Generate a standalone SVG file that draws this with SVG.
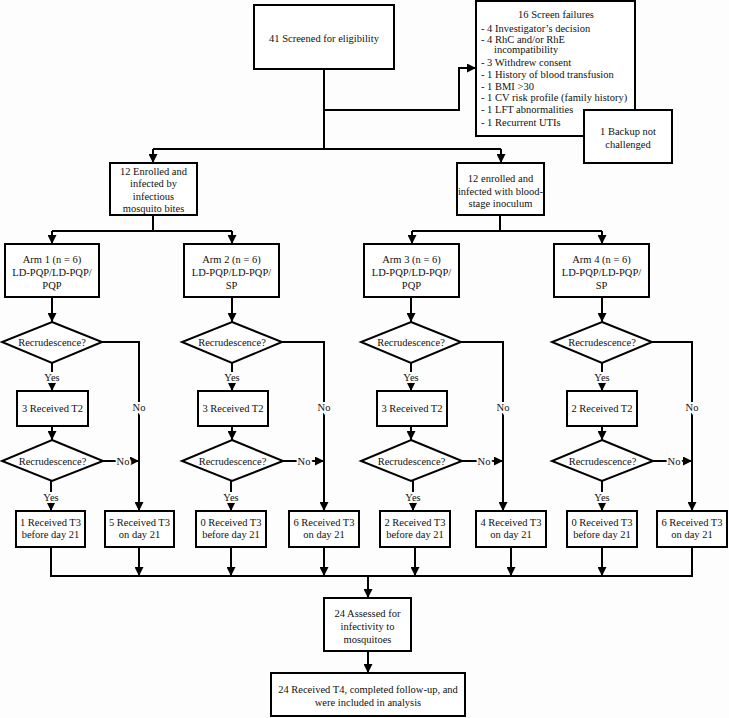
<svg xmlns="http://www.w3.org/2000/svg" width="729" height="718" viewBox="0 0 729 718">
<defs>
<marker id="ah" markerUnits="userSpaceOnUse" markerWidth="9" markerHeight="9" refX="9" refY="4.5" orient="auto"><path d="M0,0 L9,4.5 L0,9 z" fill="#000"/></marker>
<style>
text{font-family:'Liberation Serif','Times New Roman','DejaVu Serif','Noto Serif',FreeSerif,Times,serif}
.b{fill:#fff;stroke:#000;stroke-width:2}
.t{font-size:10.5px;fill:#111;text-anchor:middle}
.l{text-anchor:start}
.c{fill:none;stroke:#000;stroke-width:2}
.a{marker-end:url(#ah)}
.lb{font-size:10.5px;fill:#111;text-anchor:middle;stroke:#fdfdfd;stroke-width:4;paint-order:stroke}
</style>
</defs>
<rect width="729" height="718" fill="#fdfdfd"/>
<g id="connectors">
<path class="c" d="M324,69 V149"/>
<path class="c a" d="M324,110 H459 V68 H476"/>
<path class="c" d="M153,149 H501"/>
<path class="c a" d="M153,149 V163"/>
<path class="c a" d="M501,149 V163"/>
<path class="c" d="M153,215 V231 M52,231 H232"/>
<path class="c a" d="M52,231 V244"/>
<path class="c a" d="M232,231 V244"/>
<path class="c" d="M500,215 V231 M412,231 H602"/>
<path class="c a" d="M412,231 V244"/>
<path class="c a" d="M602,231 V244"/>
<path class="c a" d="M52,297 V322"/>
<path class="c a" d="M232,297 V322"/>
<path class="c a" d="M411,297 V322"/>
<path class="c a" d="M602,297 V322"/>
<path class="c a" d="M52,363 V391"/>
<path class="c a" d="M232,363 V391"/>
<path class="c a" d="M411,363 V391"/>
<path class="c a" d="M602,363 V391"/>
<path class="c a" d="M52,426 V440"/>
<path class="c a" d="M232,426 V440"/>
<path class="c a" d="M411,426 V440"/>
<path class="c a" d="M602,426 V440"/>
<path class="c a" d="M51,481 V511"/>
<path class="c a" d="M231,481 V511"/>
<path class="c a" d="M413,481 V511"/>
<path class="c a" d="M602,481 V511"/>
<path class="c a" d="M102,342 H139 V511"/>
<path class="c a" d="M282,342 H324 V511"/>
<path class="c a" d="M461,342 H503 V511"/>
<path class="c a" d="M652,342 H692 V511"/>
<path class="c a" d="M103,461 H139"/>
<path class="c a" d="M283,461 H324"/>
<path class="c a" d="M462,461 H503"/>
<path class="c a" d="M653,461 H692"/>
<path class="c" d="M51,547 V576 H692 V547"/>
<path class="c a" d="M139,547 V576"/>
<path class="c a" d="M231,547 V576"/>
<path class="c a" d="M324,547 V576"/>
<path class="c a" d="M415,547 V576"/>
<path class="c a" d="M511,547 V576"/>
<path class="c a" d="M602,547 V576"/>
<path class="c a" d="M368,576 V598"/>
<path class="c a" d="M368,651 V673"/>
<text class="lb" x="52" y="380.5">Yes</text>
<text class="lb" x="232" y="380.5">Yes</text>
<text class="lb" x="411" y="380.5">Yes</text>
<text class="lb" x="602" y="380.5">Yes</text>
<text class="lb" x="51" y="500.5">Yes</text>
<text class="lb" x="231" y="500.5">Yes</text>
<text class="lb" x="413" y="500.5">Yes</text>
<text class="lb" x="602" y="500.5">Yes</text>
<text class="lb" x="139" y="411">No</text>
<text class="lb" x="324" y="411">No</text>
<text class="lb" x="503" y="411">No</text>
<text class="lb" x="692" y="411">No</text>
<text class="lb" x="123" y="464.5">No</text>
<text class="lb" x="304" y="464.5">No</text>
<text class="lb" x="484" y="464.5">No</text>
<text class="lb" x="674" y="464.5">No</text>
</g>
<g id="screened"><rect class="b" x="254" y="5" width="140" height="64"/><text class="t" x="324" y="41.5">41 Screened for eligibility</text></g>
<g id="failures"><rect class="b" x="476" y="1" width="159" height="135"/>
<text class="t" x="556" y="18">16 Screen failures</text>
<text class="t l" x="481" y="31.5">- 4 Investigator’s decision</text>
<text class="t l" x="481" y="43">- 4 RhC and/or RhE</text>
<text class="t l" x="494" y="53">incompatibility</text>
<text class="t l" x="481" y="65.5">- 3 Withdrew consent</text>
<text class="t l" x="481" y="78">- 1 History of blood transfusion</text>
<text class="t l" x="481" y="89.5">- 1 BMI &gt;30</text>
<text class="t l" x="481" y="101">- 1 CV risk profile (family history)</text>
<text class="t l" x="481" y="113">- 1 LFT abnormalities</text>
<text class="t l" x="481" y="126">- 1 Recurrent UTIs</text></g>
<g id="backup"><rect class="b" x="584" y="110" width="88" height="53"/><text class="t" x="628" y="134.5">1 Backup not</text><text class="t" x="628" y="147.5">challenged</text></g>
<g id="mosq"><rect class="b" x="110" y="163" width="87" height="52"/>
<text class="t" x="153.5" y="174.5">12 Enrolled and</text><text class="t" x="153.5" y="187">infected by</text><text class="t" x="153.5" y="199.5">infectious</text><text class="t" x="153.5" y="212">mosquito bites</text></g>
<g id="blood"><rect class="b" x="457" y="163" width="87" height="52"/>
<text class="t" x="500.5" y="181.5">12 enrolled and</text><text class="t" x="500.5" y="194.5">infected with blood-</text><text class="t" x="500.5" y="206.5">stage inoculum</text></g>
<g id="arm1"><rect class="b" x="5" y="244" width="94" height="53"/><text class="t" x="52" y="262.5">Arm 1 (n = 6)</text><text class="t" x="52" y="275.5">LD-PQP/LD-PQP/</text><text class="t" x="52" y="288.5">PQP</text></g>
<g id="arm2"><rect class="b" x="184" y="244" width="95" height="53"/><text class="t" x="231.5" y="262.5">Arm 2 (n = 6)</text><text class="t" x="231.5" y="275.5">LD-PQP/LD-PQP/</text><text class="t" x="231.5" y="288.5">SP</text></g>
<g id="arm3"><rect class="b" x="364" y="244" width="95" height="53"/><text class="t" x="411.5" y="262.5">Arm 3 (n = 6)</text><text class="t" x="411.5" y="275.5">LD-PQP/LD-PQP/</text><text class="t" x="411.5" y="288.5">PQP</text></g>
<g id="arm4"><rect class="b" x="554" y="244" width="95" height="53"/><text class="t" x="601.5" y="262.5">Arm 4 (n = 6)</text><text class="t" x="601.5" y="275.5">LD-PQP/LD-PQP/</text><text class="t" x="601.5" y="288.5">SP</text></g>
<g id="d1a"><path class="b" d="M52,322 L102,342 L52,363 L2,342 z"/><text class="t" x="52" y="345.5">Recrudescence?</text></g>
<g id="d1b"><path class="b" d="M232,322 L282,342 L232,363 L182,342 z"/><text class="t" x="232" y="345.5">Recrudescence?</text></g>
<g id="d1c"><path class="b" d="M411,322 L461,342 L411,363 L361,342 z"/><text class="t" x="411" y="345.5">Recrudescence?</text></g>
<g id="d1d"><path class="b" d="M602,322 L652,342 L602,363 L552,342 z"/><text class="t" x="602" y="345.5">Recrudescence?</text></g>
<g id="t2a"><rect class="b" x="17" y="391" width="71" height="35"/><text class="t" x="52.5" y="411.5">3 Received T2</text></g>
<g id="t2b"><rect class="b" x="198" y="391" width="70" height="35"/><text class="t" x="233" y="411.5">3 Received T2</text></g>
<g id="t2c"><rect class="b" x="377" y="391" width="70" height="35"/><text class="t" x="412" y="411.5">3 Received T2</text></g>
<g id="t2d"><rect class="b" x="567" y="391" width="70" height="35"/><text class="t" x="602" y="411.5">2 Received T2</text></g>
<g id="d2a"><path class="b" d="M52,440 L103,461 L52,481 L2,461 z"/><text class="t" x="52.5" y="464.5">Recrudescence?</text></g>
<g id="d2b"><path class="b" d="M232,440 L283,461 L232,481 L182,461 z"/><text class="t" x="232.5" y="464.5">Recrudescence?</text></g>
<g id="d2c"><path class="b" d="M411,440 L462,461 L411,481 L361,461 z"/><text class="t" x="411.5" y="464.5">Recrudescence?</text></g>
<g id="d2d"><path class="b" d="M602,440 L653,461 L602,481 L552,461 z"/><text class="t" x="602.5" y="464.5">Recrudescence?</text></g>
<g id="t3a1"><rect class="b" x="16" y="511" width="69" height="36"/><text class="t" x="50.5" y="525.5">1 Received T3</text><text class="t" x="50.5" y="537.5">before day 21</text></g>
<g id="t3a2"><rect class="b" x="105" y="511" width="69" height="36"/><text class="t" x="139.5" y="525.5">5 Received T3</text><text class="t" x="139.5" y="537.5">on day 21</text></g>
<g id="t3b1"><rect class="b" x="196" y="511" width="70" height="36"/><text class="t" x="231" y="525.5">0 Received T3</text><text class="t" x="231" y="537.5">before day 21</text></g>
<g id="t3b2"><rect class="b" x="289" y="511" width="70" height="36"/><text class="t" x="324" y="525.5">6 Received T3</text><text class="t" x="324" y="537.5">on day 21</text></g>
<g id="t3c1"><rect class="b" x="380" y="511" width="70" height="36"/><text class="t" x="415" y="525.5">2 Received T3</text><text class="t" x="415" y="537.5">before day 21</text></g>
<g id="t3c2"><rect class="b" x="476" y="511" width="70" height="36"/><text class="t" x="511" y="525.5">4 Received T3</text><text class="t" x="511" y="537.5">on day 21</text></g>
<g id="t3d1"><rect class="b" x="567" y="511" width="70" height="36"/><text class="t" x="602" y="525.5">0 Received T3</text><text class="t" x="602" y="537.5">before day 21</text></g>
<g id="t3d2"><rect class="b" x="657" y="511" width="70" height="36"/><text class="t" x="692" y="525.5">6 Received T3</text><text class="t" x="692" y="537.5">on day 21</text></g>
<g id="assessed"><rect class="b" x="324" y="598" width="87" height="53"/><text class="t" x="367.5" y="616.5">24 Assessed for</text><text class="t" x="367.5" y="630">infectivity to</text><text class="t" x="367.5" y="642.5">mosquitoes</text></g>
<g id="final"><rect class="b" x="271" y="673" width="194" height="43"/><text class="t" x="368" y="692.5">24 Received T4, completed follow-up, and</text><text class="t" x="368" y="705.5">were included in analysis</text></g>
</svg>
